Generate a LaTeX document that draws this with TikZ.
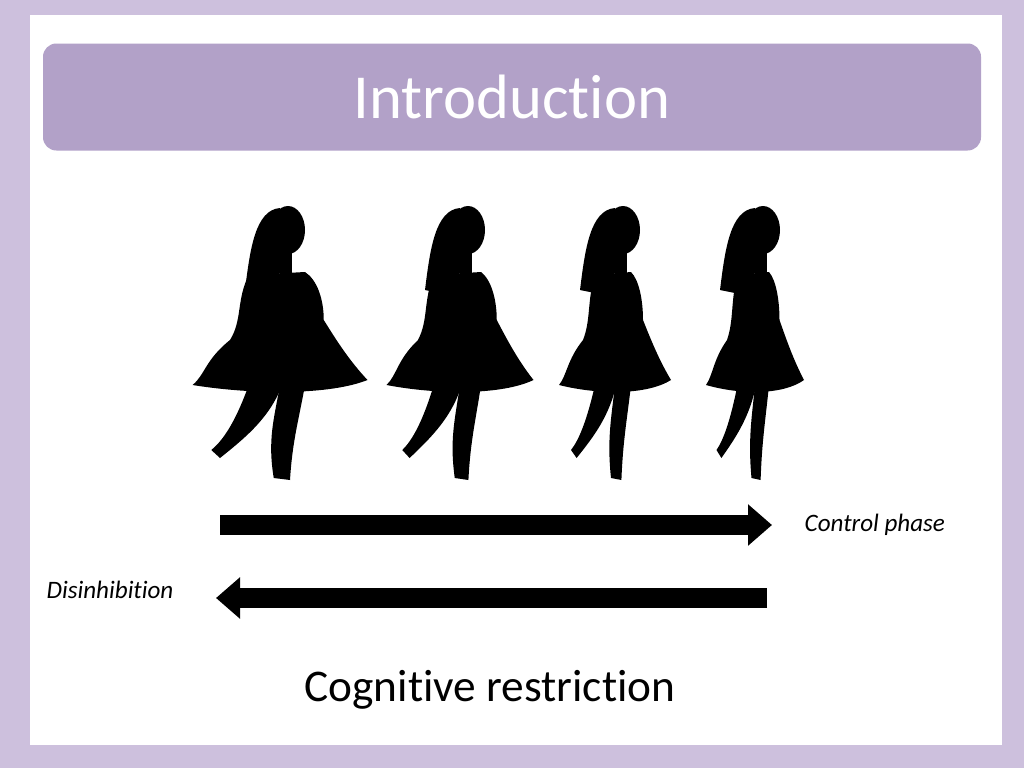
\documentclass[tikz,border=0pt]{standalone}
\usepackage{fontspec}
\setmainfont{Carlito}[Ligatures={NoCommon}]
\definecolor{bgp}{HTML}{CDC0DD}
\definecolor{barp}{HTML}{B2A1C8}
\tikzset{lbl/.style={font=\itshape\fontsize{18.8}{21}\selectfont,anchor=west},
 bigarrow/.style={line width=15pt,-{Triangle[length=18pt,width=30pt]}}}
\usetikzlibrary{arrows.meta}
\newcommand{\woman}[2]{% center x, body scale
\begin{scope}[shift={(#1,0)}]
 \fill[black] (8,230) ellipse (17 and 24);
 \fill[black] (0,208) .. controls (-25,210) and (-30,250) .. (-35,290) -- (-10,295) -- (10,250) -- cycle;
 \fill[black] (0,250) rectangle (12,275);
 \begin{scope}[xscale=#2]
 \fill[black] (-25,275) .. controls (-35,300) and (-30,320) .. (-40,340)
   .. controls (-60,360) and (-60,375) .. (-70,385)
   .. controls (-20,395) and (40,395) .. (70,380)
   .. controls (55,360) and (45,340) .. (35,320)
   .. controls (35,300) and (30,280) .. (20,272) -- cycle;
 \fill[black] (-25,385) .. controls (-35,420) and (-45,440) .. (-55,450) -- (-48,458) .. controls (-30,440) and (-10,420) .. (0,390) -- cycle;
 \fill[black] (0,385) .. controls (-5,420) and (-10,440) .. (-5,478) -- (8,480) .. controls (10,440) and (15,420) .. (20,385) -- cycle;
 \end{scope}
\end{scope}}
\begin{document}
\begin{tikzpicture}[x=0.75pt,y=-0.75pt]
\fill[bgp] (0,0) rectangle (1024,768);
\fill[white] (30,15) rectangle (1002,745);
\node[fill=barp,rounded corners=10pt,minimum width=938*0.75pt,minimum height=107*0.75pt,
 text=white,font=\fontsize{47}{50}\selectfont] (title) at (512,97) {Introduction};
\woman{280}{1.25}
\woman{460}{1.05}
\woman{615}{0.8}
\woman{755}{0.7}
\coordinate (a1) at (220,525); \coordinate (a2) at (772,525);
\coordinate (b1) at (767,598); \coordinate (b2) at (216,598);
\draw[bigarrow] (a1) -- (a2);
\draw[bigarrow] (b1) -- (b2);
\node[lbl] (cp) at (800,525) {Control phase};
\node[lbl] (dis) at (42,590) {Disinhibition};
\node[font=\fontsize{34}{38}\selectfont] (cr) at (490,690) {Cognitive restriction};
\end{tikzpicture}
\end{document}
